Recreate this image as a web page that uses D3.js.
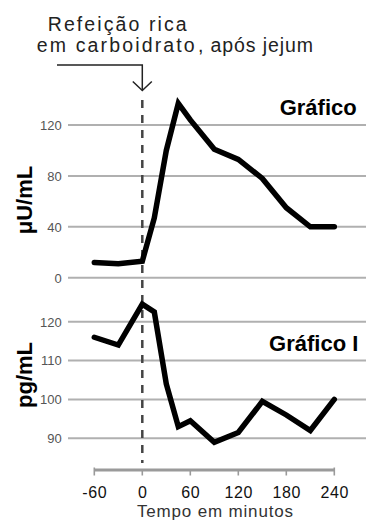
<!DOCTYPE html>
<html><head><meta charset="utf-8">
<script src="https://cdn.jsdelivr.net/npm/d3@7"></script>
<style>body{margin:0;background:#fff}svg{display:block}text{font-family:"Liberation Sans",Arial,Helvetica,sans-serif}</style>
</head><body>
<script>
const minutes = [-60, -30, 0, 15, 30, 45, 60, 90, 120, 150, 180, 210, 240];
const insulin = [12, 11, 13, 47, 100, 137, 124, 101, 93, 78, 55, 40, 40];
const glucagon = [116, 114, 124.5, 122.5, 104, 93, 94.5, 89, 91.5, 99.5, 96, 92, 100];
const xTicks = [-60, 0, 60, 120, 180, 240];
const insulinTicks = [0, 40, 80, 120];
const glucagonTicks = [90, 100, 110, 120];

const W = 366, H = 520;
const svg = d3.select("body").append("svg").attr("width", W).attr("height", H);

const x = d3.scaleLinear().domain([-60, 240]).range([94.3, 334.3]);
const yTop = d3.scaleLinear().domain([0, 120]).range([277.7, 125]);
const yBot = d3.scaleLinear().domain([90, 120]).range([438.3, 321.7]);

function grid(scale, ticks) {
  const g = svg.append("g");
  g.selectAll("line").data(ticks).join("line")
    .attr("x1", 68).attr("x2", W)
    .attr("y1", d => scale(d)).attr("y2", d => scale(d))
    .attr("stroke", "#b0b0b0").attr("stroke-width", 2);
  g.selectAll("text").data(ticks).join("text")
    .attr("x", 61.7).attr("y", d => scale(d)).attr("dy", "0.37em")
    .attr("text-anchor", "end").attr("font-size", 13).attr("fill", "#555")
    .text(d => d);
}
grid(yTop, insulinTicks);
grid(yBot, glucagonTicks);

svg.append("line")
  .attr("x1", x(0)).attr("x2", x(0)).attr("y1", 100).attr("y2", 463)
  .attr("stroke", "#444").attr("stroke-width", 2.5).attr("stroke-dasharray", "8,7");

const xg = svg.append("g");
xg.append("line").attr("x1", x(-60)).attr("x2", x(240)).attr("y1", 470).attr("y2", 470)
  .attr("stroke", "#9a9a9a").attr("stroke-width", 3);
xg.selectAll("line.t").data(xTicks).join("line").attr("class", "t")
  .attr("x1", d => x(d)).attr("x2", d => x(d))
  .attr("y1", d => (d === -60 || d === 240) ? 467.5 : 470)
  .attr("y2", 475.5)
  .attr("stroke", "#9a9a9a").attr("stroke-width", 1.6);
xg.selectAll("text").data(xTicks).join("text")
  .attr("x", d => x(d) + 0.5).attr("y", 497.5)
  .attr("text-anchor", "middle").attr("font-size", 16).attr("letter-spacing", 0.6)
  .attr("fill", "#111").text(d => d);
svg.append("text").attr("x", 215).attr("y", 516.5).attr("text-anchor", "middle")
  .attr("font-size", 17).attr("fill", "#333")
  .attr("textLength", 156).attr("lengthAdjust", "spacing")
  .text("Tempo em minutos");

const pts = minutes.map((m, i) => ({m, ins: insulin[i], glu: glucagon[i]}));
const lineTop = d3.line().x(d => x(d.m)).y(d => yTop(d.ins));
const lineBot = d3.line().x(d => x(d.m)).y(d => yBot(d.glu));
[lineTop, lineBot].forEach(l => {
  svg.append("path").datum(pts).attr("d", l)
    .attr("fill", "none").attr("stroke", "#000").attr("stroke-width", 5.5)
    .attr("stroke-linejoin", "miter").attr("stroke-linecap", "round");
});

svg.append("text").attr("transform", "translate(32,200) rotate(-90)")
  .attr("text-anchor", "middle").attr("font-size", 22).attr("font-weight", "bold")
  .text("μU/mL");
svg.append("text").attr("transform", "translate(32,375) rotate(-90)")
  .attr("text-anchor", "middle").attr("font-size", 22).attr("font-weight", "bold")
  .text("pg/mL");

svg.append("text").attr("x", 356.7).attr("y", 115).attr("text-anchor", "end")
  .attr("font-size", 22).attr("font-weight", "bold").text("Gráfico");
svg.append("text").attr("x", 358.3).attr("y", 351).attr("text-anchor", "end")
  .attr("font-size", 22).attr("font-weight", "bold").text("Gráfico I");

svg.append("text").attr("x", 47.7).attr("y", 30.5).attr("font-size", 19.5).attr("fill", "#222")
  .attr("textLength", 139).attr("lengthAdjust", "spacing").text("Refeição rica");
svg.append("text").attr("x", 36.7).attr("y", 52).attr("font-size", 19.5).attr("fill", "#222")
  .attr("textLength", 158).attr("lengthAdjust", "spacing").text("em carboidrato");
svg.append("text").attr("x", 198).attr("y", 52).attr("font-size", 19.5).attr("fill", "#222")
  .attr("textLength", 115).attr("lengthAdjust", "spacing").text(", após jejum");
svg.append("path").attr("d", `M57,65 H${x(0)} V90`).attr("fill", "none")
  .attr("stroke", "#222").attr("stroke-width", 1.5);
svg.append("path").attr("d", `M${x(0) - 9.5},81.5 L${x(0)},90.5 L${x(0) + 9.5},81.5`).attr("fill", "none")
  .attr("stroke", "#222").attr("stroke-width", 1.5);
</script>
</body></html>
